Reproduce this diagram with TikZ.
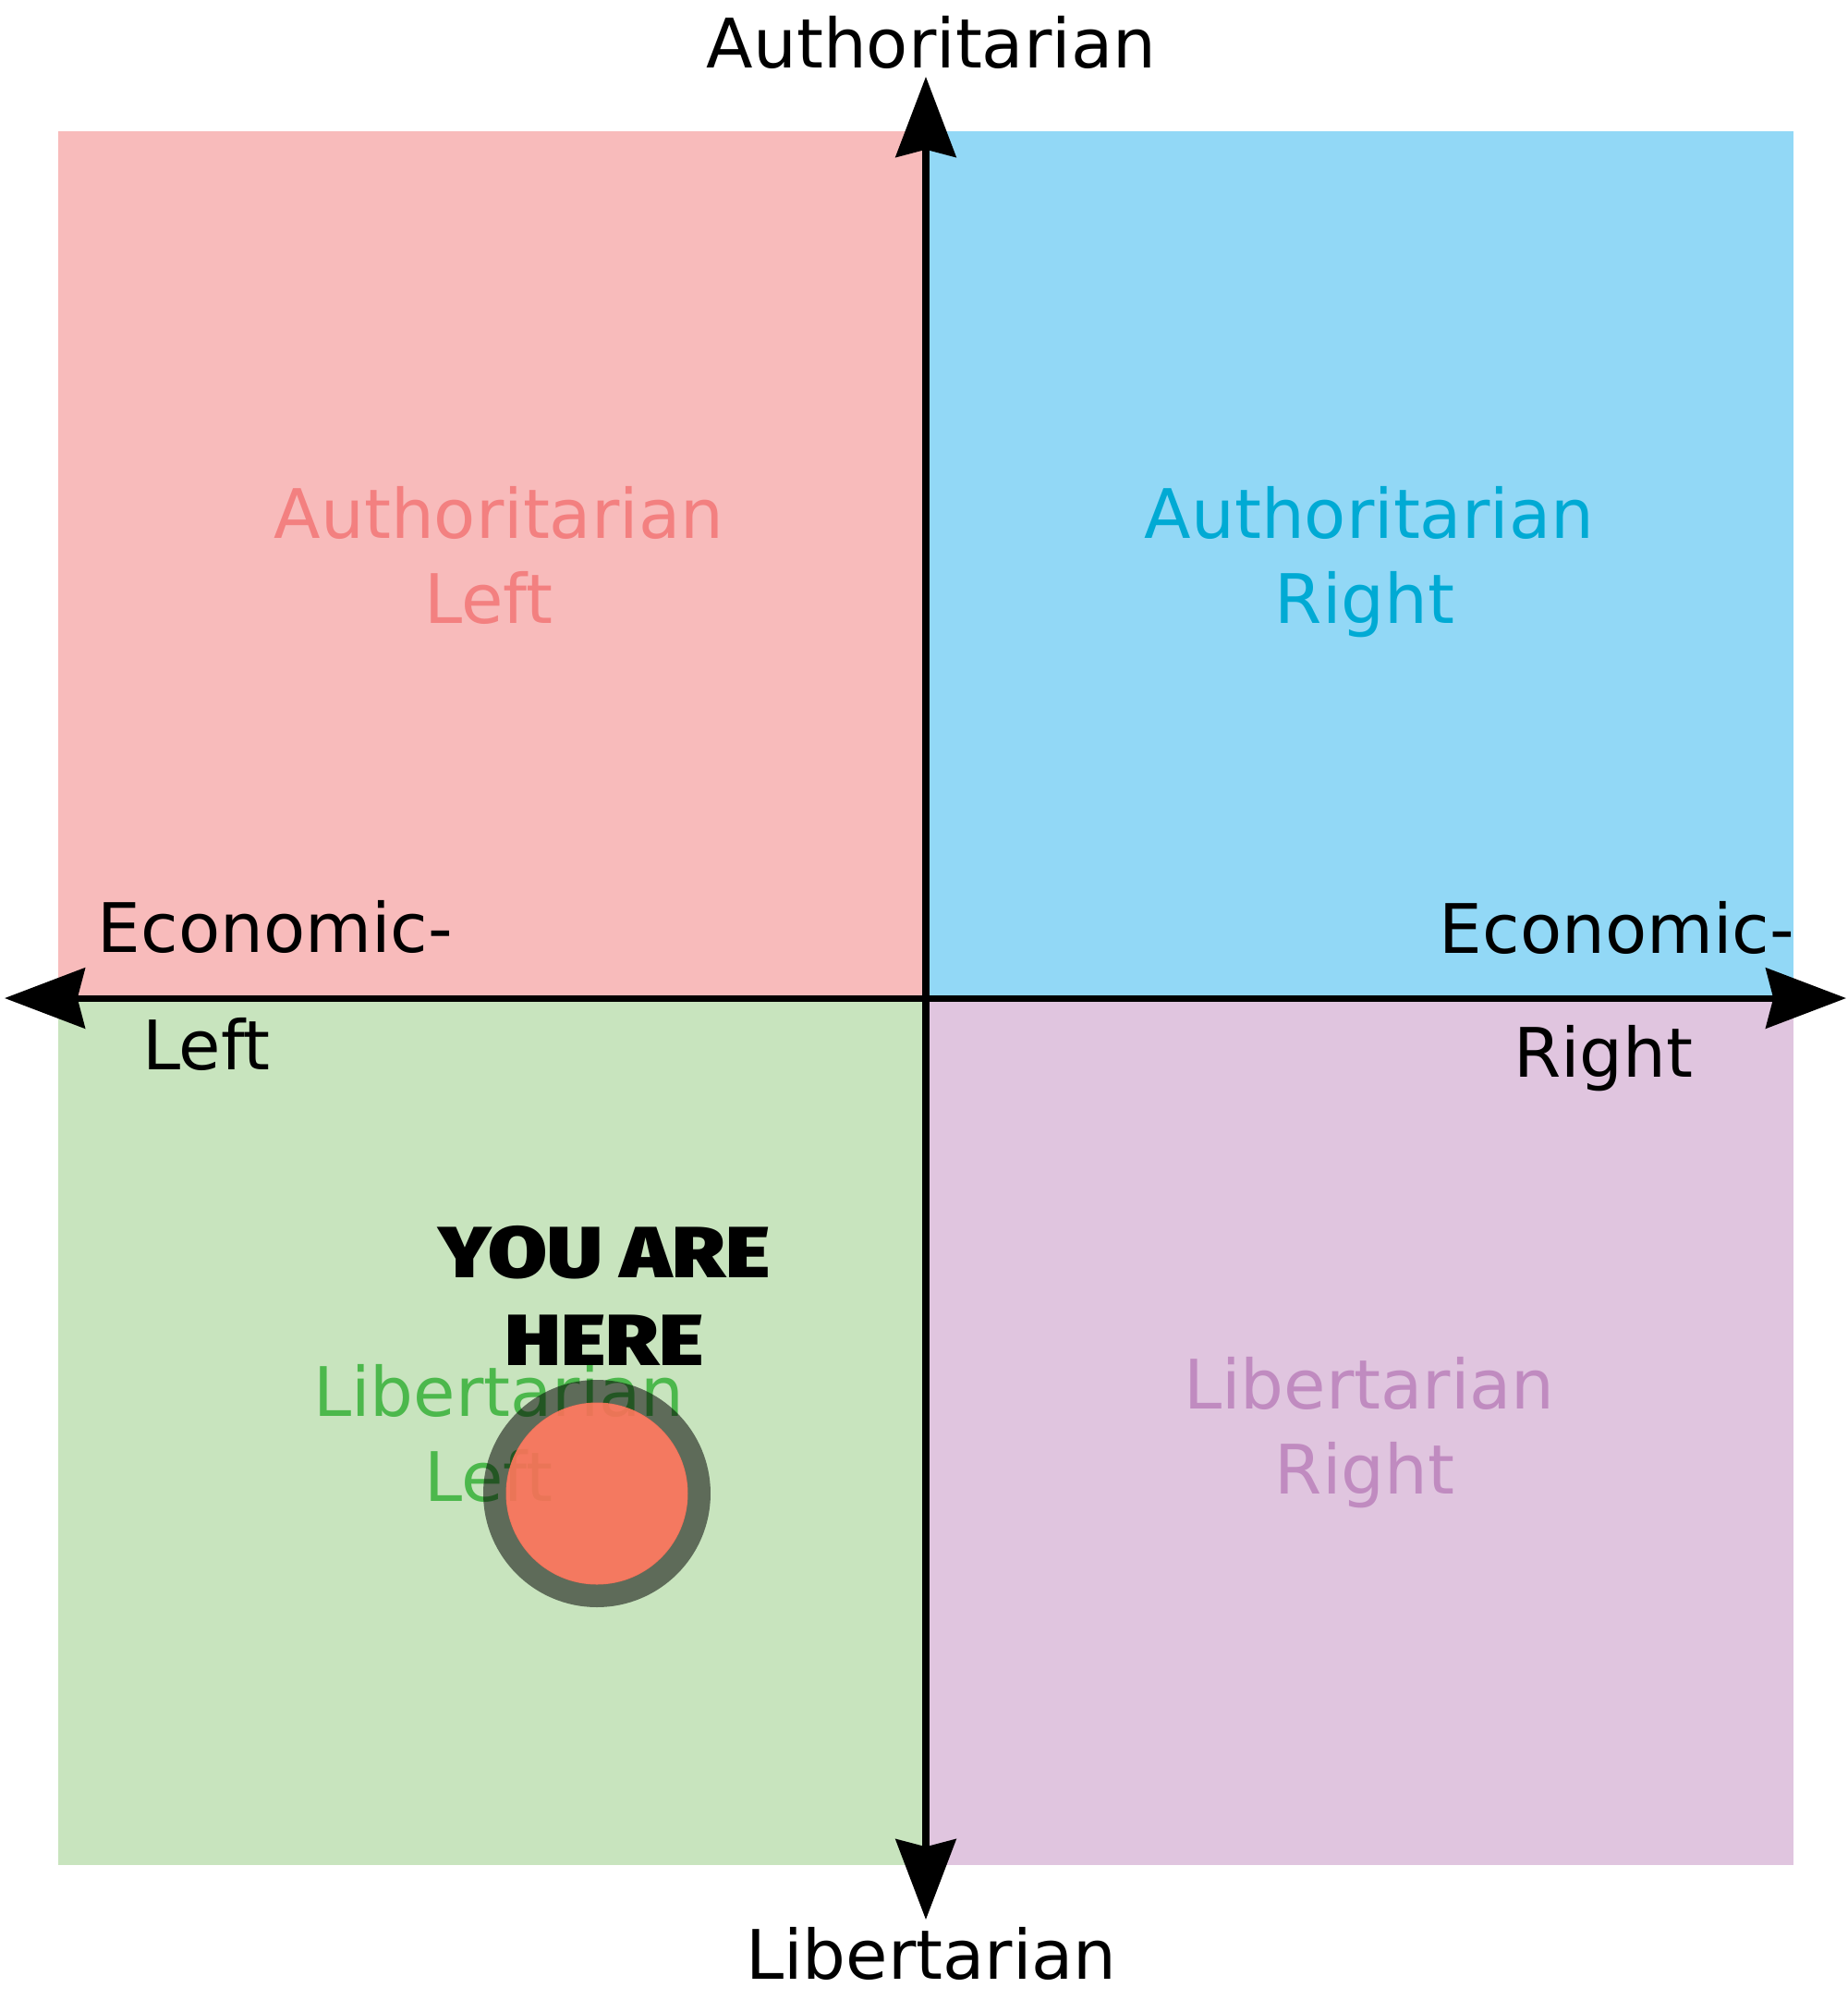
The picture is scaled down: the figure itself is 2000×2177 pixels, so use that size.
\documentclass[tikz,border=0pt]{standalone}
\usepackage{fontspec}
\setmainfont{DejaVu Sans}
\newfontfamily\herefont{Fira Sans Black}[FakeStretch=1.18]
\usepackage{xcolor}
\usepackage{tikz}
\usetikzlibrary{arrows.meta, positioning}
\definecolor{albg}{RGB}{248,187,187}
\definecolor{arbg}{RGB}{146,216,246}
\definecolor{llbg}{RGB}{200,228,190}
\definecolor{lrbg}{RGB}{224,197,223}
\definecolor{altxt}{RGB}{243,128,128}
\definecolor{artxt}{RGB}{0,170,212}
\definecolor{lltxt}{RGB}{76,184,76}
\definecolor{lrtxt}{RGB}{192,139,192}
\definecolor{dotred}{RGB}{248,112,88}

\begin{document}
\begin{tikzpicture}[x=0.01cm, y=-0.01cm,
  every node/.style={inner sep=0pt, outer sep=0pt},
  big/.style={font=\fontsize{21}{25.9}\selectfont},
  quad/.style={big, align=center, anchor=base},
  axis/.style={line width=2pt, {Stealth[length=24.7pt, width=18.5pt, inset=2.3pt]}-{Stealth[length=24.7pt, width=18.5pt, inset=2.3pt]}},
  here/.style={font=\herefont\fontsize{22.3}{27}\selectfont, align=center, anchor=base}]
\useasboundingbox (0,0) rectangle (2000,2177);

% quadrants
\fill[albg] (63,142) rectangle (1002,1080);
\fill[arbg] (1002,142) rectangle (1941,1080);
\fill[llbg] (63,1080) rectangle (1002,2018);
\fill[lrbg] (1002,1080) rectangle (1941,2018);

% quadrant labels (anchored on the last line)
\node[quad, text=altxt] (authleft) at (540,674) {Authoritarian\\Left\kern6.3pt};
\node[quad, text=artxt] (authright) at (1482,674) {Authoritarian\\Right\kern2.8pt};
\node[quad, text=lltxt] (libleft) at (540,1624) {Libertarian\\Left\kern6.3pt};
\node[quad, text=lrtxt] (libright) at (1482,1616) {Libertarian\\Right\kern2.8pt};

% axes
\coordinate (up) at (1002,83);
\coordinate (down) at (1002,2077);
\coordinate (west) at (5,1080);
\coordinate (east) at (1998,1080);
\draw[axis] (down) -- (up);
\draw[axis] (west) -- (east);

% axis labels
\node[big, anchor=base] (auth) at (1008,73) {Authoritarian};
\node[big, anchor=base] (lib) at (1008,2141) {Libertarian};
\node[big, anchor=base west] (econl) at (106,1030) {Economic-};
\node[big, anchor=base west] (left) at (154,1157) {Left};
\node[big, anchor=base east] (econr) at (1942,1031) {Economic-};
\node[big, anchor=base west] (right) at (1638,1165) {Right};

% marker
\node[here] (youarehere) at (654,1477) {YOU ARE\\HERE};
\draw[black, draw opacity=0.53, line width=7.1pt] (646,1616) circle (110.5);
\fill[dotred, fill opacity=0.92] (646,1616) circle (98.5);
\end{tikzpicture}
\end{document}
